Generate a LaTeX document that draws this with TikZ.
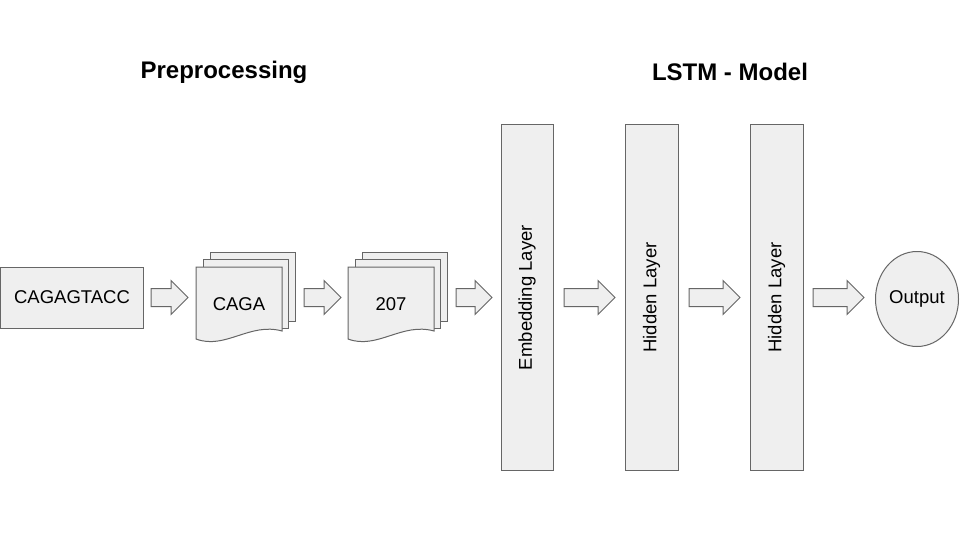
\documentclass[tikz,border=0pt]{standalone}
\usepackage{fontspec}
\setmainfont{Liberation Sans}
\usetikzlibrary{shapes.geometric}
\definecolor{fillg}{HTML}{EFEFEF}
\definecolor{lineg}{HTML}{666666}
\newcommand\blockarrow[2]{%
  \draw[barrow] (#1,288.5) -- ({#2-17},288.5) -- ({#2-17},280.5) -- (#2,297.5)
    -- ({#2-17},314.5) -- ({#2-17},306.5) -- (#1,306.5) -- cycle;}
\newcommand\docstack[2]{%
  \draw[docshape] ({#1+14},252) rectangle ({#1+99},321);
  \draw[docshape] ({#1+7},259) rectangle ({#1+92},328);
  \draw[docshape] (#1,267) -- ({#1+86},267) -- ({#1+86},331)
    .. controls ({#1+54},322) and ({#1+29},350) .. (#1,339) -- cycle;
  \node[lbl] (#2) at ({#1+43},304) {};}
\begin{document}
\begin{tikzpicture}[x=1pt,y=-1pt,
  box/.style={draw=lineg, fill=fillg, line width=1pt, inner sep=0pt,
    font=\fontsize{18.5}{22}\selectfont},
  docshape/.style={draw=lineg, fill=fillg, line width=1pt},
  barrow/.style={draw=lineg, fill=fillg, line width=1pt, line join=miter},
  title/.style={font=\fontsize{24}{28}\selectfont\bfseries, inner sep=0pt},
  lbl/.style={font=\fontsize{18.5}{22}\selectfont, inner sep=0pt}]
\fill[white] (0,0) rectangle (960,540);
\useasboundingbox (0,0) rectangle (960,540);

\node[title] (tpre) at (224,72) {Preprocessing};
\node[title] (tlstm) at (730,72) {LSTM - Model};

\node[box, minimum width=143, minimum height=61] (seq) at (72,297.5) {CAGAGTACC};

\blockarrow{151}{188}
\docstack{196}{kmer}
\node[lbl] at (kmer) {CAGA};
\blockarrow{304}{341}
\docstack{348}{tok}
\node[lbl] at (tok) {207};
\blockarrow{456}{492}

\node[box, minimum width=52, minimum height=345] (emb) at (527,297.5) {};
\node[lbl, rotate=90] at (emb) {Embedding Layer};
\blockarrow{564}{615}
\node[box, minimum width=53, minimum height=345] (hid1) at (651.5,297.5) {};
\node[lbl, rotate=90] at (hid1) {Hidden Layer};
\blockarrow{689}{740}
\node[box, minimum width=53, minimum height=345] (hid2) at (776.5,297.5) {};
\node[lbl, rotate=90] at (hid2) {Hidden Layer};
\blockarrow{813}{864}
\node[box, ellipse, minimum width=83, minimum height=95] (out) at (917,299) {Output};
\end{tikzpicture}
\end{document}
